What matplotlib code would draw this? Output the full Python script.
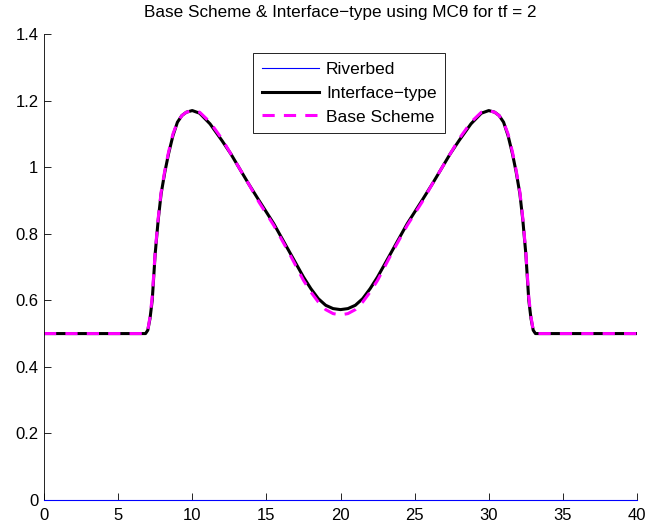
import matplotlib
matplotlib.use("Agg")
import matplotlib.pyplot as plt

plt.rcParams['font.family'] = ['Liberation Sans', 'DejaVu Sans']

title = "Base Scheme & Interface\u2212type using MC\u03b8 for tf = 2"
labels = ["Riverbed", "Interface\u2212type", "Base Scheme"]

riverbed_x = [0, 40]
riverbed_y = [0, 0]

interface_x = [0, 6.85, 7.0, 7.15, 7.3, 7.5, 7.7, 7.9, 8.15, 8.4, 8.7, 9.0, 9.3, 9.6,
               10.0, 10.5, 11.2, 12.0, 12.6, 13.2, 13.8, 14.5, 15.5, 16.5, 17.5, 18.0,
               18.5, 19.0, 19.5, 20.0, 20.5, 21.0, 21.5, 22.0, 22.5, 23.5, 24.5, 25.5,
               26.2, 26.8, 27.4, 28.0, 28.8, 29.5, 30.0, 30.4, 30.7, 31.0, 31.3, 31.6,
               31.85, 32.1, 32.3, 32.5, 32.7, 32.85, 33.0, 33.15, 40]
interface_y = [0.5, 0.5, 0.51, 0.545, 0.60, 0.74, 0.84, 0.92, 0.985, 1.04, 1.095, 1.135, 1.155, 1.165,
               1.17, 1.162, 1.13, 1.08, 1.04, 0.995, 0.95, 0.90, 0.83, 0.75, 0.67, 0.635,
               0.605, 0.585, 0.575, 0.572, 0.575, 0.585, 0.605, 0.635, 0.67, 0.75, 0.83, 0.90,
               0.95, 0.995, 1.04, 1.08, 1.13, 1.162, 1.17, 1.165, 1.155, 1.135, 1.095, 1.04,
               0.985, 0.92, 0.84, 0.74, 0.60, 0.545, 0.51, 0.5, 0.5]

base_x = [0, 6.85, 7.0, 7.15, 7.3, 7.5, 7.7, 7.9, 8.15, 8.4, 8.7, 9.0, 9.3, 9.6,
          10.0, 10.5, 11.2, 12.0, 12.6, 13.2, 13.8, 14.5, 15.5, 16.5, 17.5, 18.0,
          18.5, 19.0, 19.5, 20.0, 20.5, 21.0, 21.5, 22.0, 22.5, 23.5, 24.5, 25.5,
          26.2, 26.8, 27.4, 28.0, 28.8, 29.5, 30.0, 30.4, 30.7, 31.0, 31.3, 31.6,
          31.85, 32.1, 32.3, 32.5, 32.7, 32.85, 33.0, 33.15, 40]
base_y = [0.5, 0.5, 0.51, 0.55, 0.61, 0.745, 0.845, 0.925, 0.99, 1.045, 1.10, 1.135, 1.155, 1.165,
          1.17, 1.165, 1.135, 1.085, 1.04, 0.995, 0.95, 0.895, 0.825, 0.745, 0.66, 0.625,
          0.595, 0.572, 0.560, 0.556, 0.560, 0.572, 0.595, 0.625, 0.66, 0.745, 0.825, 0.895,
          0.95, 0.995, 1.04, 1.085, 1.135, 1.165, 1.17, 1.165, 1.155, 1.135, 1.10, 1.045,
          0.99, 0.925, 0.845, 0.745, 0.61, 0.55, 0.51, 0.5, 0.5]

xticks = [0, 5, 10, 15, 20, 25, 30, 35, 40]
yticks = [0, 0.2, 0.4, 0.6, 0.8, 1.0, 1.2, 1.4]
yticklabels = ["0", "0.2", "0.4", "0.6", "0.8", "1", "1.2", "1.4"]

fig = plt.figure(figsize=(6.46, 5.29), dpi=100)
ax = fig.add_axes([44/646, 1-500/529, (637-44)/646, (500-34)/529])

ax.plot(riverbed_x, riverbed_y, color='#0000ff', lw=0.8, label=labels[0], clip_on=False, zorder=3)
ax.plot(interface_x, interface_y, color='black', lw=2.2, label=labels[1])
ax.plot(base_x, base_y, color='#ff00ff', lw=2.2, ls=(0, (4, 3)), label=labels[2])

ax.set_xlim(0, 40)
ax.set_ylim(0, 1.4)
ax.set_xticks(xticks)
ax.set_yticks(yticks)
ax.set_yticklabels(yticklabels)
ax.spines['top'].set_visible(False)
ax.spines['right'].set_visible(False)
ax.spines['left'].set_linewidth(0.6)
ax.spines['bottom'].set_linewidth(0.6)
ax.tick_params(direction='in', length=5, width=0.6, labelsize=12)
ax.tick_params(axis='x', pad=6)
ax.tick_params(axis='y', pad=4)
ax.set_title(title, fontsize=12.3, pad=12)

leg = ax.legend(loc='upper left', bbox_to_anchor=((253-44)/593, (500-53)/466),
                borderaxespad=0, fancybox=False, edgecolor='black', fontsize=12.5,
                handlelength=3.3, handletextpad=0.4, labelspacing=0.5, borderpad=0.5,
                framealpha=1)
leg.get_frame().set_linewidth(0.6)

fig.savefig("out.png", dpi=100)
